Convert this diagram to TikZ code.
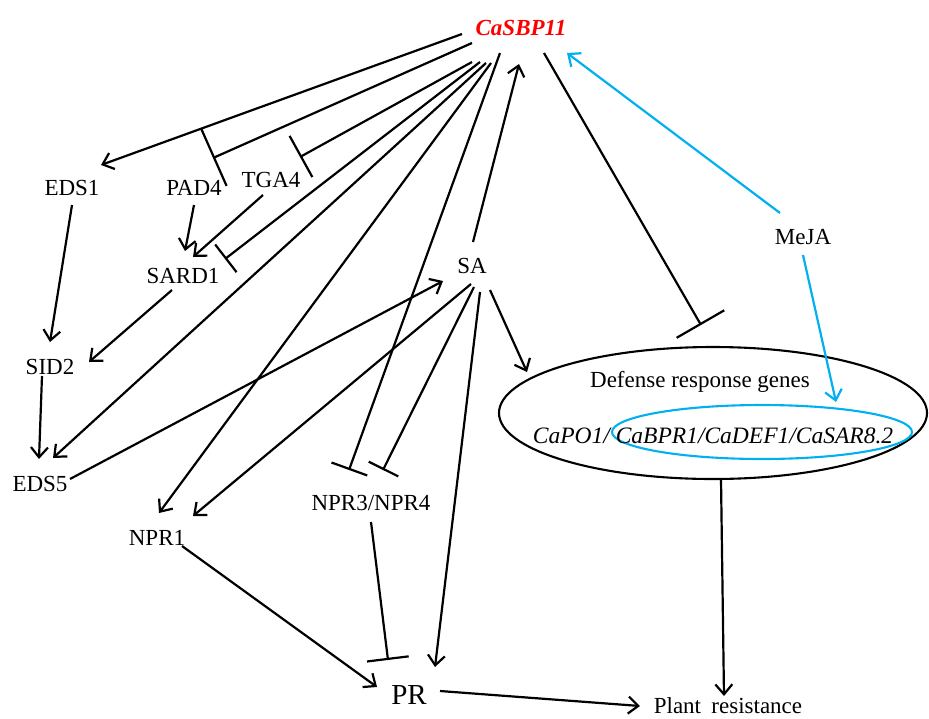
\documentclass[tikz,border=0pt]{standalone}
\usepackage{fontspec}
\setmainfont{Liberation Serif}
\usetikzlibrary{arrows.meta,shapes.geometric}
\definecolor{skyb}{RGB}{0,176,240}
\definecolor{redc}{RGB}{255,0,0}
\begin{document}
\begin{tikzpicture}[x=1pt,y=-1pt,
  lbl/.style={inner sep=0pt, anchor=base, font=\fontsize{23}{27}\selectfont},
  act/.style={line width=2.2pt, -{Straight Barb[length=10pt,width=17pt]}},
  bact/.style={act, draw=skyb},
  inh/.style={line width=2.2pt, -{Bar[width=#1]}}]
\useasboundingbox[fill=white] (0,0) rectangle (929,718);

% ---- nodes ----
\node[lbl, text=redc, font=\fontsize{23}{27}\selectfont\bfseries\itshape] (cas) at (521,35) {CaSBP11};
\node[lbl] (eds1) at (72,195) {EDS1};
\node[lbl] (pad4) at (194,195) {PAD4};
\node[lbl] (tga4) at (271,187) {TGA4};
\node[lbl] (sard1) at (183,283) {SARD1};
\node[lbl] (sid2) at (50,374) {SID2};
\node[lbl] (eds5) at (40,491) {EDS5};
\node[lbl] (npr1) at (157,545) {NPR1};
\node[lbl] (sa) at (472,273) {SA};
\node[lbl] (npr34) at (371,510) {NPR3/NPR4};
\node[lbl, font=\fontsize{29}{33}\selectfont] (pr) at (409,704) {PR};
\node[lbl] (plant) at (728,713) {Plant\hspace{0.45em}resistance};
\node[lbl] (meja) at (803,244) {MeJA};
\node[draw, ellipse, line width=2.1pt, minimum width=428pt, minimum height=132pt, inner sep=0pt] (def) at (713,413) {};
\node[draw=skyb, ellipse, line width=2.1pt, minimum width=300pt, minimum height=54pt, inner sep=0pt] (blu) at (762,432) {};
\node[lbl] (dtitle) at (700,387) {Defense response genes};
\node[lbl, font=\fontsize{23.5}{27}\selectfont\itshape] (dgenes) at (713,443) {CaPO1/ CaBPR1/CaDEF1/CaSAR8.2};

% ---- connector end points ----
\coordinate (cas-eds1) at (462,34);   \coordinate (eds1-in) at (101,165);
\coordinate (cas-pad4) at (472,43);   \coordinate (pad4-bar) at (213,158);
\coordinate (cas-tga4) at (472,62);   \coordinate (tga4-bar) at (300,157);
\coordinate (cas-sard1) at (480,62);  \coordinate (sard1-bar) at (225,259);
\coordinate (cas-eds5) at (486,63);   \coordinate (eds5-in) at (53,458);
\coordinate (cas-npr1) at (491,63);   \coordinate (npr1-in) at (159,513);
\coordinate (cas-npr3) at (500,53);   \coordinate (npr3-bar) at (349,470);
\coordinate (cas-def) at (544,53);    \coordinate (def-bar) at (701,325);
\coordinate (cas-in) at (519,64);     \coordinate (cas-in2) at (567,53);
\coordinate (eds1-out) at (72,205);   \coordinate (sid2-in) at (50,342);
\coordinate (pad4-out) at (194,205);  \coordinate (sard1-in) at (185,251);
\coordinate (tga4-out) at (263,195);  \coordinate (sard1-in2) at (193,257);
\coordinate (sard1-out) at (172,290); \coordinate (sid2-in2) at (89,362);
\coordinate (sid2-out) at (42,376);   \coordinate (eds5-in2) at (39,459);
\coordinate (eds5-out) at (70,479);   \coordinate (sa-in) at (443,281);
\coordinate (sa-top) at (473,242);
\coordinate (sa-npr1) at (471,284);   \coordinate (npr1-in2) at (193,516);
\coordinate (sa-npr4) at (474,287);   \coordinate (npr4-bar) at (383,470);
\coordinate (sa-pr) at (480,292);     \coordinate (pr-in) at (435,667);
\coordinate (sa-def) at (490,290);    \coordinate (def-in) at (527,372);
\coordinate (npr1-out) at (182,546);  \coordinate (pr-in2) at (377,687);
\coordinate (npr34-out) at (371,522); \coordinate (pr-bar) at (388,660);
\coordinate (pr-out) at (440,691);    \coordinate (plant-in) at (640,706);
\coordinate (def-out) at (721,479);   \coordinate (plant-in2) at (724,696);
\coordinate (meja-up) at (780,213);   \coordinate (meja-down) at (803,255);
\coordinate (blu-in) at (836,402);

% ---- connectors ----
\draw[act] (cas-eds1) -- (eds1-in);
\draw[inh=62pt] (cas-pad4) -- (pad4-bar);
\draw[inh=47pt] (cas-tga4) -- (tga4-bar);
\draw[inh=35pt] (cas-sard1) -- (sard1-bar);
\draw[act] (cas-eds5) -- (eds5-in);
\draw[act] (cas-npr1) -- (npr1-in);
\draw[inh=38pt] (cas-npr3) -- (npr3-bar);
\draw[inh=55pt] (cas-def) -- (def-bar);
\draw[act] (sa-top) -- (cas-in);
\draw[act] (eds1-out) -- (sid2-in);
\draw[act] (pad4-out) -- (sard1-in);
\draw[act] (tga4-out) -- (sard1-in2);
\draw[act] (sard1-out) -- (sid2-in2);
\draw[act] (sid2-out) -- (eds5-in2);
\draw[act] (eds5-out) -- (sa-in);
\draw[act] (sa-npr1) -- (npr1-in2);
\draw[inh=33pt] (sa-npr4) -- (npr4-bar);
\draw[act] (sa-pr) -- (pr-in);
\draw[act] (sa-def) -- (def-in);
\draw[act] (npr1-out) -- (pr-in2);
\draw[inh=42pt] (npr34-out) -- (pr-bar);
\draw[act] (pr-out) -- (plant-in);
\draw[act] (def-out) -- (plant-in2);
\draw[bact] (meja-up) -- (cas-in2);
\draw[bact] (meja-down) -- (blu-in);
\end{tikzpicture}
\end{document}
